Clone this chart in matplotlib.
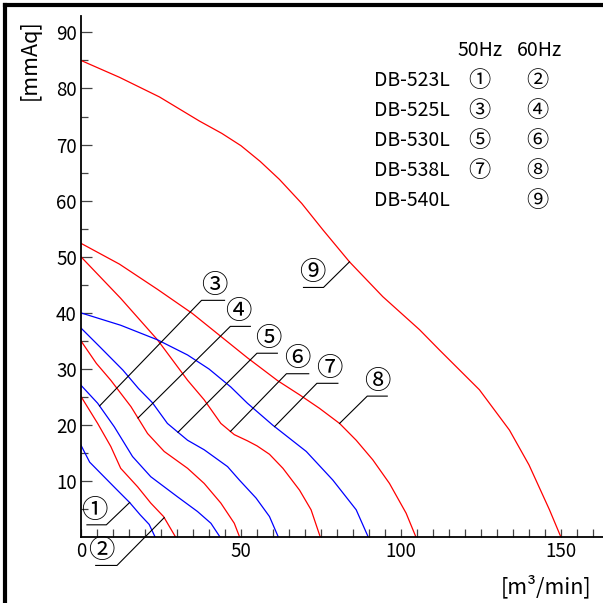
import numpy as np
import matplotlib
matplotlib.use("Agg")
import matplotlib.pyplot as plt
from matplotlib.lines import Line2D

plt.rcParams['font.family'] = ['Noto Sans CJK JP', 'DejaVu Sans']

# ---------------- data ----------------
c1_x = [0, 2.7, 6.5, 11, 15.2, 18.5, 21.3, 23.2]
c1_y = [16.4, 13.4, 11.2, 8.6, 6.2, 4.0, 2.3, 0]
c2_x = [0, 5.2, 9.3, 12.4, 17.7, 21.8, 25.8, 29.6]
c2_y = [25.1, 20.3, 16.2, 12.3, 9.0, 6.1, 3.7, 0]
c3_x = [0, 5.2, 10.4, 16.1, 21.8, 30.2, 36.4, 40.6, 43.5]
c3_y = [27.1, 23.9, 19.7, 14.4, 10.8, 7.2, 4.6, 2.5, 0]
c4_x = [0, 4.8, 9.3, 15.6, 20.8, 26, 33.3, 38.5, 43.7, 47.9, 49.6]
c4_y = [35, 31, 28, 23.3, 18.5, 15.3, 12.3, 9.6, 6.1, 2.5, 0]
c5_x = [0, 5.8, 13.1, 18, 22.3, 27, 33.3, 38.5, 45.8, 49.5, 54.7, 58.9, 61.7]
c5_y = [37.3, 34, 29.8, 26.5, 24.0, 20.3, 17.3, 15.6, 12.6, 10.2, 7.0, 3.7, 0]
c6_x = [0, 12.4, 23.9, 33.3, 38.5, 43.7, 47.9, 52, 55, 58.9, 63.1, 68.3, 71.9, 74.8]
c6_y = [50, 42.6, 35.2, 28, 24.5, 20.3, 18.3, 17.2, 16.3, 14.8, 12.3, 8.4, 4.9, 0]
c7_x = [0, 12.4, 23.9, 33.3, 40, 46.8, 52, 59.9, 70.4, 78.7, 86, 89.8]
c7_y = [40, 37.8, 35.2, 32.5, 30.0, 26.8, 23.9, 20.0, 15.3, 10.2, 4.9, 0]
c8_x = [0, 12, 23.9, 34.8, 52, 61.5, 68.3, 74.5, 80.8, 86, 91.2, 96.4, 101.6, 104.7]
c8_y = [52.4, 48.7, 44.2, 39.9, 32, 27.9, 25.4, 23, 20.3, 17.3, 13.8, 9.6, 4.3, 0]
c9_x = [0, 12, 24.5, 37, 44, 50, 56, 62, 69, 75.6, 83.9, 94.3, 105.8, 112, 124.5, 133.9,
        140, 146.4, 150]
c9_y = [85, 82, 78.5, 74.2, 72.0, 69.8, 67.0, 63.8, 59.5, 54.8, 49.1, 42.9, 37, 33.4, 26.3,
        19.1, 12.9, 4.9, 0]

curve_labels = ['①', '②', '③', '④', '⑤', '⑥', '⑦', '⑧', '⑨']
curve_colors = ['#0000ff', '#ff0000', '#0000ff', '#ff0000', '#0000ff',
                '#ff0000', '#0000ff', '#ff0000', '#ff0000']

models = ['DB-523L', 'DB-525L', 'DB-530L', 'DB-538L', 'DB-540L']
hz50 = ['①', '③', '⑤', '⑦', '']
hz60 = ['②', '④', '⑥', '⑧', '⑨']

x_tick_labels = [0, 50, 100, 150]
y_tick_labels = [10, 20, 30, 40, 50, 60, 70, 80, 90]

# label anchor (x position on the curve) and leader geometry in pixels
anchor_x = [15.2, 26.0, 5.8, 17.8, 30.3, 46.7, 60.5, 80.8, 83.9]
lead_dx = [-23.3, -47.2, 102, 92.4, 79, 56, 42.3, 27.7, -26]
lead_dy = [-22.3, -47.8, 105.6, 91.6, 79, 57.7, 43.3, 27.3, -25.6]
ul_len = [-19.4, -21.3, 23, 20, 20.4, 22.3, 21, 20, -20]
circ_dx = [-11.7, -15.5, 13, 8.3, 11, 11.3, 12, 10, -11.3]

# ---------------- figure ----------------
W = H = 603
fig = plt.figure(figsize=(6.03, 6.03), dpi=100)
ax = fig.add_axes([81 / W, (H - 537.3) / H, (W - 81) / W, (537.3 - 16) / H])
ax.set_xlim(0, (W - 81) / 3.2)
ax.set_ylim(0, (537.3 - 16) / 5.61)

curves = [(c1_x, c1_y), (c2_x, c2_y), (c3_x, c3_y), (c4_x, c4_y), (c5_x, c5_y),
          (c6_x, c6_y), (c7_x, c7_y), (c8_x, c8_y), (c9_x, c9_y)]
for (cx, cy), col in zip(curves, curve_colors):
    ax.plot(cx, cy, color=col, lw=0.9, solid_joinstyle='round')

for s in ['top', 'right']:
    ax.spines[s].set_visible(False)
for s in ['left', 'bottom']:
    ax.spines[s].set_linewidth(1.3)
    ax.spines[s].set_color('black')

ax.set_xticks(x_tick_labels)
ax.set_xticks(np.arange(5, 165, 5), minor=True)
ax.set_yticks(y_tick_labels)
ax.set_yticks(np.arange(5, 95, 10), minor=True)
ax.tick_params(axis='x', which='both', direction='in', length=6, width=0.9,
               color='#444444', labelsize=13.5, pad=3)
ax.tick_params(axis='y', which='major', direction='in', length=8, width=0.9,
               color='#444444', labelsize=13.5, pad=3)
ax.tick_params(axis='y', which='minor', direction='in', length=5, width=0.9,
               color='#444444')

# axis labels as free text
fig.text(30 / W, 1 - 60 / H, '[mmAq]', rotation=90, ha='center', va='center', fontsize=15.5)
fig.text(591 / W, 1 - 586.7 / H, '[m³/min]', ha='right', va='center', fontsize=15.5)

# legend block
fig.text(480 / W, 1 - 50 / H, '50Hz', ha='center', va='center', fontsize=14)
fig.text(540 / W, 1 - 50 / H, '60Hz', ha='center', va='center', fontsize=14)
row_y = [80.7, 110, 140, 170, 201]
for m, a, b, ry in zip(models, hz50, hz60, row_y):
    fig.text(374 / W, 1 - ry / H, m, ha='left', va='center', fontsize=14)
    if a:
        fig.text(479 / W, 1 - ry / H, a, ha='center', va='center', fontsize=16)
    fig.text(537 / W, 1 - ry / H, b, ha='center', va='center', fontsize=16)

# curve labels with leaders
fig.canvas.draw()
tD = ax.transData
inv = tD.inverted()
for i, lab in enumerate(curve_labels):
    cx, cy = curves[i]
    ay = float(np.interp(anchor_x[i], cx, cy))
    px, py = tD.transform((anchor_x[i], ay))
    ex, ey = px + lead_dx[i], py + lead_dy[i]
    ux = ex + ul_len[i]
    pts = inv.transform([(px, py), (ex, ey), (ux, ey)])
    ax.plot(pts[:, 0], pts[:, 1], color='black', lw=0.8, clip_on=False)
    tx, ty = inv.transform((ex + circ_dx[i], ey + 14.8))
    ax.text(tx, ty, lab, ha='center', va='center', fontsize=19, clip_on=False)

# outer frame (left and top)
b = 5 / W
fig.add_artist(Line2D([b, b], [0, 1 - b], transform=fig.transFigure, color='black', lw=3))
fig.add_artist(Line2D([b, 1], [1 - b, 1 - b], transform=fig.transFigure, color='black', lw=3))

fig.savefig('out.png', dpi=100)
